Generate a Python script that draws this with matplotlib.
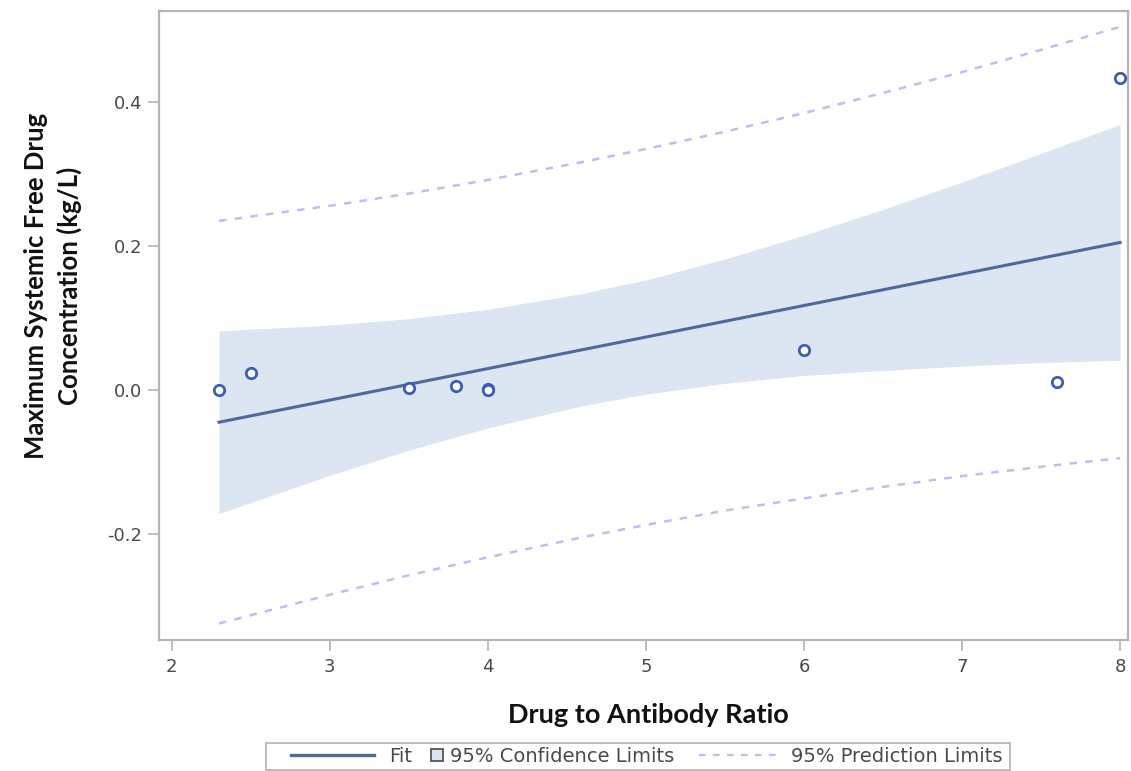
import matplotlib
matplotlib.use("Agg")
import matplotlib.pyplot as plt
from matplotlib.lines import Line2D
from matplotlib.patches import Rectangle

# Observed data
dar = [2.3, 2.5, 3.5, 3.8, 4.0, 4.0, 6.0, 7.6, 8.0]
conc = [0.000, 0.024, 0.002, 0.005, 0.001, 0.000, 0.055, 0.011, 0.434]

# Fitted line (end points)
fit_x = [2.3, 8.0]
fit_y = [-0.045, 0.205]

# Band grid and limits
band_x = [2.3, 3.0, 3.5, 4.0, 4.6, 5.0, 5.5, 6.0, 6.5, 7.0, 7.5, 8.0]
ci_upper = [0.082, 0.090, 0.099, 0.112, 0.134, 0.153, 0.182, 0.215, 0.251, 0.289, 0.329, 0.369]
ci_lower = [-0.172, -0.119, -0.084, -0.053, -0.022, -0.006, 0.009, 0.020, 0.027, 0.033, 0.038, 0.041]
pi_upper = [0.235, 0.256, 0.273, 0.292, 0.317, 0.335, 0.359, 0.385, 0.413, 0.442, 0.473, 0.505]
pi_lower = [-0.325, -0.285, -0.258, -0.233, -0.205, -0.188, -0.168, -0.151, -0.135, -0.120, -0.107, -0.095]

x_ticks = [2, 3, 4, 5, 6, 7, 8]
y_ticks = [-0.2, 0.0, 0.2, 0.4]
y_ticklabels = ["-0.2", "0.0", "0.2", "0.4"]
legend_labels = ["Fit", "95% Confidence Limits", "95% Prediction Limits"]

fill_color = "#dce5f2"
fit_color = "#4e6a9c"
marker_color = "#3d5fb3"
pred_color = "#bcc0ea"
spine_color = "#b5b5b5"
tick_text = "#4a4a4a"
W, H = 1131, 771

fig = plt.figure(figsize=(W / 100, H / 100), dpi=100)
ax = fig.add_axes([159 / W, 1 - 640 / H, (1128 - 159) / W, (640 - 11) / H])

ax.fill_between(band_x, ci_lower, ci_upper, color=fill_color, linewidth=0, zorder=1)
ax.plot(fit_x, fit_y, color=fit_color, linewidth=2.2, zorder=3)
ax.plot(band_x, pi_upper, color=pred_color, linewidth=1.8, linestyle=(0, (3, 3.3)), zorder=2)
ax.plot(band_x, pi_lower, color=pred_color, linewidth=1.8, linestyle=(0, (3, 3.3)), zorder=2)
ax.plot(dar, conc, linestyle="none", marker="o", markersize=7.5, markerfacecolor="white",
        markeredgecolor=marker_color, markeredgewidth=2.0, zorder=4)

ax.set_xlim(1.92, 8.05)
ax.set_ylim(-0.348, 0.527)
ax.set_xticks(x_ticks)
ax.set_xticklabels([str(v) for v in x_ticks])
ax.set_yticks(y_ticks)
ax.set_yticklabels(y_ticklabels)

for s in ax.spines.values():
    s.set_color(spine_color)
    s.set_linewidth(1.6)
ax.tick_params(axis="both", direction="out", length=8, width=1.2, color=spine_color,
               labelcolor=tick_text, labelsize=13)
ax.tick_params(axis="y", pad=4)
ax.tick_params(axis="x", pad=5)
for lab in ax.get_xticklabels() + ax.get_yticklabels():
    lab.set_family("DejaVu Sans")

fig.text(648 / W, 1 - 715 / H, "Drug to Antibody Ratio", ha="center", va="center",
         fontsize=19.5, fontweight="bold", family="Lato", color="#111111")
fig.text(53 / W, 1 - 286 / H, "Maximum Systemic Free Drug\nConcentration (kg/L)",
         ha="center", va="center", rotation=90, multialignment="center",
         fontsize=18.5, fontweight="bold", family="Lato", color="#111111", linespacing=1.4)

# Legend: one real legend per entry, inside a common frame
fig.add_artist(Rectangle((266 / W, 1 - 770 / H), (1010 - 266) / W, 27 / H,
                         transform=fig.transFigure, facecolor="white",
                         edgecolor="#b0b0b0", linewidth=1.2, zorder=0))
leg_y = 1 - 756.5 / H
entries = [
    (Line2D([0], [0], color=fit_color, linewidth=2.4), legend_labels[0], 291, 4.28, 0.75),
    (Line2D([0], [0], linestyle="none", marker="s", markersize=8.5, markerfacecolor=fill_color,
            markeredgecolor="#555555", markeredgewidth=1.3), legend_labels[1], 428, 0.9, 0.23),
    (Line2D([0], [0], color=pred_color, linewidth=1.6, linestyle=(0, (3, 3.3))),
     legend_labels[2], 699, 4.0, 0.72),
]
for handle, label, x0, hl, tp in entries:
    lg = fig.legend([handle], [label], loc="center left", bbox_to_anchor=(x0 / W, leg_y),
                    frameon=False, borderpad=0, borderaxespad=0, handlelength=hl,
                    handletextpad=tp, prop={"family": "DejaVu Sans", "size": 14})
    for t in lg.get_texts():
        t.set_color(tick_text)

fig.savefig("out.png", dpi=100)
